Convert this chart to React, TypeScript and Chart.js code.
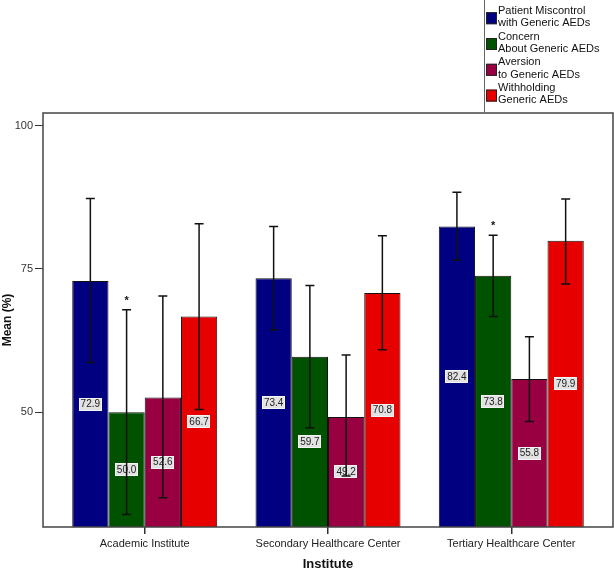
import React, { useEffect, useRef } from "react";
import { Chart, registerables } from "chart.js";

Chart.register(...registerables);

const categories = ["Academic Institute", "Secondary Healthcare Center", "Tertiary Healthcare Center"];
const seriesNames = [
  ["Patient Miscontrol", "with Generic AEDs"],
  ["Concern", "About Generic AEDs"],
  ["Aversion", "to Generic AEDs"],
  ["Withholding", "Generic AEDs"],
];
const seriesColors = ["#000080", "#005200", "#990042", "#e60000"];

const miscontrol = [72.9, 73.4, 82.4];
const concern = [50.0, 59.7, 73.8];
const aversion = [52.6, 49.2, 55.8];
const withholding = [66.7, 70.8, 79.9];

const miscontrolLow = [58.7, 64.4, 76.5];
const miscontrolHigh = [87.3, 82.4, 88.4];
const concernLow = [32.2, 47.3, 66.7];
const concernHigh = [67.9, 72.1, 80.9];
const aversionLow = [35.1, 38.9, 48.4];
const aversionHigh = [70.3, 60.0, 63.2];
const withholdingLow = [50.5, 60.9, 72.4];
const withholdingHigh = [82.9, 80.8, 87.2];

const concernStars = [true, false, true];

const yTicks = [50, 75, 100];
const yMin = 30;
const yMax = 102.2;

const values = [miscontrol, concern, aversion, withholding];
const lows = [miscontrolLow, concernLow, aversionLow, withholdingLow];
const highs = [miscontrolHigh, concernHigh, aversionHigh, withholdingHigh];
const stars = [null, concernStars, null, null];

const FONT = '"Liberation Sans", Arial, sans-serif';

const decorPlugin = {
  id: "decor",
  afterDatasetsDraw(chart: any) {
    const ctx = chart.ctx;
    const ys = chart.scales.y;
    const area = chart.chartArea;
    ctx.save();
    chart.data.datasets.forEach((ds: any, di: number) => {
      const meta = chart.getDatasetMeta(di);
      meta.data.forEach((bar: any, i: number) => {
        const p = bar.getProps(["x", "y", "base"], true);
        const base = Math.min(p.base, area.bottom);
        const cy = (p.y + base) / 2;
        const txt = values[di][i].toFixed(1);
        ctx.font = "10px " + FONT;
        const w = ctx.measureText(txt).width + 4;
        ctx.fillStyle = "#e2e2e2";
        ctx.fillRect(Math.round(p.x - w / 2), Math.round(cy - 6.5), Math.round(w), 13);
        ctx.strokeStyle = "#f4f4f4";
        ctx.lineWidth = 1;
        ctx.strokeRect(Math.round(p.x - w / 2) + 0.5, Math.round(cy - 6.5) + 0.5, Math.round(w) - 1, 12);
        ctx.fillStyle = "#222";
        ctx.textAlign = "center";
        ctx.textBaseline = "middle";
        ctx.fillText(txt, p.x, cy + 0.5);
      });
    });
    chart.data.datasets.forEach((ds: any, di: number) => {
      const meta = chart.getDatasetMeta(di);
      meta.data.forEach((bar: any, i: number) => {
        const p = bar.getProps(["x"], true);
        const hi = ys.getPixelForValue(highs[di][i]);
        const lo = ys.getPixelForValue(lows[di][i]);
        ctx.strokeStyle = "#111";
        ctx.lineWidth = 1.5;
        ctx.beginPath();
        ctx.moveTo(p.x, hi);
        ctx.lineTo(p.x, lo);
        ctx.moveTo(p.x - 4.5, hi);
        ctx.lineTo(p.x + 4.5, hi);
        ctx.moveTo(p.x - 4.5, lo);
        ctx.lineTo(p.x + 4.5, lo);
        ctx.stroke();
        const st = stars[di];
        if (st && st[i]) {
          ctx.fillStyle = "#111";
          ctx.font = "bold 11px " + FONT;
          ctx.textAlign = "center";
          ctx.textBaseline = "middle";
          ctx.fillText("*", p.x, hi - 9);
        }
      });
    });
    ctx.restore();
  },
  afterDraw(chart: any) {
    const ctx = chart.ctx;
    const a = chart.chartArea;
    ctx.save();
    ctx.strokeStyle = "#444";
    ctx.lineWidth = 1.5;
    ctx.strokeRect(a.left, a.top, a.right - a.left, a.bottom - a.top);
    // legend
    ctx.strokeStyle = "#666";
    ctx.lineWidth = 1;
    ctx.beginPath();
    ctx.moveTo(484.5, 0);
    ctx.lineTo(484.5, a.top - 1);
    ctx.stroke();
    chart.data.datasets.forEach((ds: any, k: number) => {
      const l1 = 10.7 + 25.8 * k;
      ctx.fillStyle = ds.backgroundColor;
      ctx.fillRect(486, l1 + 1.5, 11, 12);
      ctx.strokeStyle = "#222";
      ctx.lineWidth = 1;
      ctx.strokeRect(486.5, l1 + 2, 10, 11);
      ctx.fillStyle = "#111";
      ctx.font = "11px " + FONT;
      ctx.textAlign = "left";
      ctx.textBaseline = "middle";
      const lines = seriesNames[k];
      lines.forEach((t, j) => ctx.fillText(t, 498, l1 + j * 12.3));
    });
    ctx.restore();
  },
};

export default function App() {
  const ref = useRef<HTMLCanvasElement | null>(null);
  useEffect(() => {
    if (!ref.current) return;
    Chart.defaults.font.family = FONT;
    const chart = new Chart(ref.current, {
      type: "bar",
      data: {
        datasets: values.map((v, di) => ({
          label: seriesNames[di].join(" "),
          data: v.map((y, i) => ({ x: i, y })),
          backgroundColor: seriesColors[di],
          borderColor: "#111",
          borderWidth: 1,
          barPercentage: 1,
          categoryPercentage: 0.791,
          base: yMin,
        })),
      },
      options: {
        responsive: false,
        devicePixelRatio: 1,
        animation: false,
        events: [],
        layout: { padding: { top: 113, right: 1, left: 0, bottom: 0 } },
        plugins: { legend: { display: false }, tooltip: { enabled: false } },
        scales: {
          x: {
            type: "linear",
            offset: false,
            min: -0.555,
            max: 2.555,
            afterBuildTicks: (s: any) => {
              s.ticks = categories.map((_, i) => ({ value: i }));
            },
            afterFit: (s: any) => {
              s.height = 44;
            },
            ticks: {
              autoSkip: false,
              maxRotation: 0,
              padding: 3,
              color: "#222",
              font: { size: 11 },
              callback: (v: any) => categories[v] ?? "",
            },
            grid: { display: true, drawOnChartArea: false, drawTicks: true, tickLength: 7, color: "#333", offset: false, lineWidth: 1.5 },
            border: { display: false },
            title: { display: true, text: "Institute", color: "#111", font: { size: 13, weight: "bold", lineHeight: 1 }, padding: 0 },
          },
          y: {
            type: "linear",
            min: yMin,
            max: yMax,
            beginAtZero: false,
            afterBuildTicks: (s: any) => {
              s.ticks = yTicks.map((v) => ({ value: v }));
            },
            afterFit: (s: any) => {
              s.width = 43;
            },
            ticks: { padding: 2, color: "#333", font: { size: 11 } },
            grid: { display: true, drawOnChartArea: false, drawTicks: true, tickLength: 8, color: "#333", lineWidth: 1 },
            border: { display: false },
            title: { display: true, text: "Mean (%)", color: "#111", font: { size: 12, weight: "bold" }, padding: 0 },
          },
        },
      },
      plugins: [decorPlugin],
    } as any);
    return () => chart.destroy();
  }, []);
  return (
    <div style={{ position: "fixed", left: 0, top: 0, width: 614, height: 571, background: "#fff" }}>
      <canvas ref={ref} width={614} height={571} style={{ width: 614, height: 571, display: "block" }} />
    </div>
  );
}
